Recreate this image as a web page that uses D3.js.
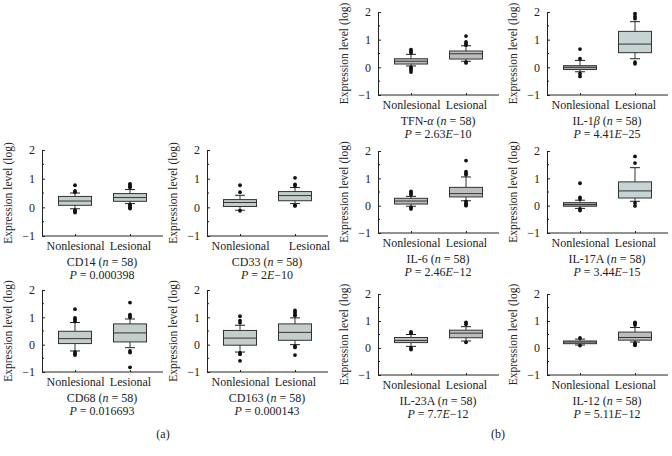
<!DOCTYPE html>
<html lang="en">
<head>
    <meta charset="UTF-8">
    <script src="https://d3js.org/d3.v7.min.js"></script>
    <style>
        body { margin: 0; background: #fff; }
        text { font-family: "Liberation Serif", "DejaVu Serif", serif; fill: #222; }
    </style>
</head>
<body>
    <svg width="672" height="456"></svg>

    <script>
        // chart data
        let groups = ["Nonlesional", "Lesional"];
        let yTicks = [-1, 0, 1, 2];
        let yMinorTicks = [-0.5, 0.5, 1.5];
        let genes = ["TFN-α", "IL-1β", "CD14", "CD33", "IL-6", "IL-17A", "CD68", "CD163", "IL-23A", "IL-12"];
        let sampleSize = [58, 58, 58, 58, 58, 58, 58, 58, 58, 58];
        let pValues = ["2.63E−10", "4.41E−25", "0.000398", "2E−10", "2.46E−12", "3.44E−15", "0.016693", "0.000143", "7.7E−12", "5.11E−12"];

        // box stats: [whisker low, q1, median, q3, whisker high]
        let nonlesionalStats = [
            [0.05, 0.12, 0.22, 0.31, 0.47],
            [-0.16, -0.08, 0.0, 0.06, 0.25],
            [-0.05, 0.07, 0.22, 0.38, 0.5],
            [-0.1, 0.03, 0.17, 0.27, 0.42],
            [-0.02, 0.06, 0.17, 0.27, 0.34],
            [-0.1, -0.02, 0.04, 0.11, 0.2],
            [-0.23, 0.04, 0.22, 0.49, 0.81],
            [-0.27, -0.02, 0.24, 0.52, 0.71],
            [0.06, 0.2, 0.28, 0.39, 0.5],
            [0.11, 0.16, 0.22, 0.26, 0.33]
        ];
        let lesionalStats = [
            [0.22, 0.3, 0.49, 0.59, 0.78],
            [0.31, 0.53, 0.84, 1.3, 1.65],
            [0.13, 0.21, 0.34, 0.48, 0.62],
            [0.13, 0.23, 0.41, 0.55, 0.69],
            [0.18, 0.32, 0.44, 0.67, 1.05],
            [0.16, 0.28, 0.54, 0.87, 1.39],
            [-0.11, 0.1, 0.43, 0.76, 0.94],
            [0.0, 0.16, 0.45, 0.76, 0.98],
            [0.26, 0.38, 0.55, 0.66, 0.79],
            [0.22, 0.29, 0.39, 0.59, 0.76]
        ];
        let nonlesionalOutliers = [
            [0.64, 0.58, 0.52, 0.0, -0.05, -0.1, -0.17],
            [0.66, 0.31, -0.23, -0.33],
            [0.77, 0.57, 0.53, -0.1, -0.15, -0.18],
            [0.77, 0.53, -0.12],
            [0.52, 0.46, 0.4, -0.06, -0.12],
            [0.82, 0.3, 0.24, -0.12, -0.18],
            [1.3, 0.98, 0.93, 0.85, -0.27, -0.33, -0.38],
            [1.04, 0.88, 0.8, -0.3, -0.35, -0.59],
            [0.6, 0.55, 0.0, -0.06],
            [0.37, 0.09]
        ];
        let lesionalOutliers = [
            [1.13, 0.92, 0.85, 0.8, 0.19, 0.16],
            [1.94, 1.84, 1.76, 0.19, 0.13],
            [0.82, 0.78, 0.72, 0.7, 0.1, 0.05, 0.0, -0.04],
            [1.03, 0.8, 0.75, 0.07, 0.05],
            [1.65, 1.24, 1.18, 1.13, 0.15, 0.08, 0.03, 0.0],
            [1.8, 1.56, 0.1, -0.01],
            [1.54, 1.1, 1.05, 1.0, -0.23, -0.29, -0.83],
            [1.25, 1.18, 1.1, 1.06, -0.05, -0.1, -0.38],
            [0.95, 0.88, 0.21],
            [0.95, 0.9, 0.85, 0.18, 0.12, 0.1]
        ];

        // layout: [y-axis x, top (value 2), bottom (value -1)]
        let panelPos = [
            [378, 12, 95], [547, 12, 95],
            [42, 150, 236], [207, 150, 236],
            [378, 151, 233], [547, 151, 233],
            [42, 290, 372], [207, 290, 372],
            [378, 294, 375], [547, 294, 375]
        ];
        let fills = [
            ["#bdbdbd", "#bdbdbd"], ["#aeb0b0", "#c6d3d3"],
            ["#c3ceca", "#c3ceca"], ["#c3ceca", "#c3ceca"],
            ["#bdbdbd", "#bdbdbd"], ["#aeb0b0", "#c6d3d3"],
            ["#c3ceca", "#c3ceca"], ["#c3ceca", "#c3ceca"],
            ["#bdbdbd", "#bdbdbd"], ["#bdbdbd", "#bdbdbd"]
        ];

        let svg = d3.select("svg");
        let boxW = 33, capW = 10;
        let fontSize = "12px";

        genes.forEach((gene, i) => {
            let [ax, top, bottom] = panelPos[i];
            let g = svg.append("g");

            let y = d3.scaleLinear().domain([-1, 2]).range([bottom, top]);
            let x = d3.scalePoint().domain(groups).range([ax + 33, ax + 88]);

            // y axis with inward ticks
            let yAxis = g.append("g")
                .attr("transform", "translate(" + ax + ",0)")
                .call(d3.axisLeft(y).tickValues(yTicks).tickSizeInner(-3).tickSizeOuter(0)
                    .tickPadding(7).tickFormat(d => d < 0 ? "−" + Math.abs(d) : d));
            yAxis.selectAll("text").style("font-size", fontSize).style("font-family", "Liberation Serif");
            yAxis.selectAll("line, path").attr("stroke", "#222");
            g.selectAll(".minor")
                .data(yMinorTicks)
                .enter().append("line")
                .attr("x1", ax).attr("x2", ax + 2)
                .attr("y1", d => y(d)).attr("y2", d => y(d))
                .attr("stroke", "#222");

            // x axis line
            g.append("line")
                .attr("x1", ax).attr("x2", ax + 121)
                .attr("y1", bottom).attr("y2", bottom)
                .attr("stroke", "#222");
            let xAxis = g.append("g")
                .attr("transform", "translate(0," + bottom + ")")
                .call(d3.axisBottom(x).tickSizeInner(-2).tickSizeOuter(0).tickPadding(5));
            xAxis.select(".domain").remove();
            xAxis.selectAll("line").attr("stroke", "#222");
            xAxis.selectAll("text").style("font-size", fontSize).style("font-family", "Liberation Serif");
            if (gene === "CD33") {
                xAxis.selectAll("text").filter(d => d === "Lesional").attr("dx", 14);
            }

            // y axis title
            g.append("text")
                .attr("transform", "translate(" + (ax - 30) + "," + ((top + bottom) / 2) + ") rotate(-90)")
                .attr("text-anchor", "middle")
                .style("font-size", "11.5px")
                .text("Expression level (log)");

            // boxes
            let stats = [nonlesionalStats[i], lesionalStats[i]];
            let outliers = [nonlesionalOutliers[i], lesionalOutliers[i]];
            groups.forEach((grp, k) => {
                let s = stats[k];
                let cx = x(grp);
                let bg = g.append("g");
                bg.append("line")
                    .attr("x1", cx).attr("x2", cx)
                    .attr("y1", y(s[0])).attr("y2", y(s[4]))
                    .attr("stroke", "#333");
                bg.selectAll(".cap")
                    .data([s[0], s[4]])
                    .enter().append("line")
                    .attr("x1", cx - capW / 2).attr("x2", cx + capW / 2)
                    .attr("y1", d => y(d)).attr("y2", d => y(d))
                    .attr("stroke", "#222");
                bg.append("rect")
                    .attr("x", cx - boxW / 2).attr("width", boxW)
                    .attr("y", y(s[3])).attr("height", y(s[1]) - y(s[3]))
                    .attr("fill", fills[i][k])
                    .attr("stroke", "#333");
                bg.append("line")
                    .attr("x1", cx - boxW / 2).attr("x2", cx + boxW / 2)
                    .attr("y1", y(s[2])).attr("y2", y(s[2]))
                    .attr("stroke", "#333");
                bg.selectAll("circle")
                    .data(outliers[k])
                    .enter().append("circle")
                    .attr("cx", cx).attr("cy", d => y(d))
                    .attr("r", 1.9)
                    .attr("fill", "#111");
            });

            // panel caption
            let cx = ax + 60;
            let t1 = g.append("text").attr("x", cx).attr("y", bottom + 30)
                .attr("text-anchor", "middle").style("font-size", fontSize);
            let greek = gene.match(/[αβ]/);
            if (greek) {
                let parts = gene.split(greek[0]);
                t1.append("tspan").text(parts[0]);
                t1.append("tspan").style("font-style", "italic").text(greek[0]);
                t1.append("tspan").text(parts[1] + " (");
            } else {
                t1.append("tspan").text(gene + " (");
            }
            t1.append("tspan").style("font-style", "italic").text("n");
            t1.append("tspan").text(" = " + sampleSize[i] + ")");

            let t2 = g.append("text").attr("x", cx).attr("y", bottom + 43)
                .attr("text-anchor", "middle").style("font-size", fontSize);
            t2.append("tspan").style("font-style", "italic").text("P");
            let pv = pValues[i];
            if (pv.includes("E")) {
                let [m, e] = pv.split("E");
                t2.append("tspan").text(" = " + m);
                t2.append("tspan").style("font-style", "italic").text("E");
                t2.append("tspan").text(e);
            } else {
                t2.append("tspan").text(" = " + pv);
            }
        });

        // sub-figure labels
        svg.append("text").attr("x", 163).attr("y", 438)
            .attr("text-anchor", "middle").style("font-size", fontSize).text("(a)");
        svg.append("text").attr("x", 498).attr("y", 438)
            .attr("text-anchor", "middle").style("font-size", fontSize).text("(b)");
    </script>
</body>
</html>
